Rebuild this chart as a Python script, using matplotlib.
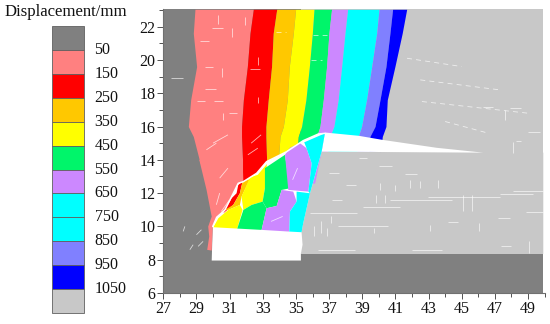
import matplotlib
matplotlib.use("Agg")
import matplotlib.pyplot as plt
from matplotlib.patches import Polygon, Rectangle
from matplotlib.ticker import FixedLocator

plt.rcParams['font.family'] = ['Liberation Serif', 'DejaVu Serif']

LEGEND_TITLE = "Displacement/mm"
legend_labels = [50, 150, 250, 350, 450, 550, 650, 750, 850, 950, 1050]
C_DARK = '#808080'; C_PINK = '#ff8080'; C_RED = '#ff0000'; C_ORANGE = '#ffc800'
C_YELLOW = '#ffff00'; C_GREEN = '#00f56a'; C_PURPLE = '#cc88ff'; C_CYAN = '#00ffff'
C_LBLUE = '#8080ff'; C_BLUE = '#0000ff'; C_LGRAY = '#c8c8c8'
legend_colors = [C_DARK, C_PINK, C_RED, C_ORANGE, C_YELLOW, C_GREEN, C_PURPLE,
                 C_CYAN, C_CYAN, C_LBLUE, C_BLUE, C_LGRAY]

x_major = [27, 29, 31, 33, 35, 37, 39, 41, 43, 45, 47, 49]
x_minor = [28, 30, 32, 34, 36, 38, 40, 42, 44, 46, 48, 50]
y_major = [6, 8, 10, 12, 14, 16, 18, 20, 22]
y_minor = [7, 9, 11, 13, 15, 17, 19, 21, 23]

x_end = 49.92
y_top = 23.04
seam_y = 8.35

# upper contour bands: x of each boundary at the rows band_y
band_y = [23.04, 21.6, 19.6, 17.6, 16.0, 15.4, 14.0, 12.6]
b_gray_pink = [28.91, 28.81, 29.01, 28.65, 28.51, 28.81, 29.17, 29.60]
b_pink_red = [32.43, 32.23, 32.07, 31.83, 31.72, 31.72, 31.78, 31.78]
b_red_orange = [33.84, 33.63, 33.53, 33.33, 33.19, 33.19, 33.23, 33.23]
b_orange_yellow = [34.98, 34.84, 34.60, 34.48, 34.24, 34.04, 33.94, 33.90]
b_yellow_green = [36.09, 35.99, 35.81, 35.60, 35.34, 35.14, 35.04, 35.00]
b_green_purple = [37.15, 36.99, 36.85, 36.65, 36.45, 36.25, 36.05, 36.00]
b_purple_cyan = [38.12, 37.96, 37.76, 37.55, 37.29, 37.05, 36.85, 36.80]
b_cyan_lblue = [40.01, 39.87, 39.57, 39.26, 38.96, 38.76, 38.66, 38.60]
b_lblue_blue = [40.83, 40.67, 40.43, 40.07, 39.77, 39.46, 39.36, 39.30]
b_blue_gray = [41.68, 41.41, 40.97, 40.51, 40.43, 40.21, 40.07, 40.00]

crack = [(36.75, 15.59), (36.35, 15.55), (35.44, 15.15), (34.44, 14.49), (33.23, 13.89),
         (32.63, 13.19), (31.83, 12.69), (31.52, 12.59), (30.72, 10.99), (30.22, 10.55), (29.98, 9.99)]
mask_rest = [(29.92, 7.95), (35.30, 7.95), (35.30, 8.35), (35.40, 8.90), (35.34, 9.65),
             (35.44, 10.19), (35.85, 11.99), (36.55, 14.49)]
wedge = [(36.75, 15.64), (38.80, 15.44), (40.20, 15.20), (43.5, 14.72), (46.30, 14.43), (36.55, 14.49)]
lower_gray = [(36.55, 14.49), (46.30, 14.43), (x_end, 14.43), (x_end, seam_y), (35.3, seam_y)]
pink_tail = [(29.17, 14.0), (29.61, 12.19), (29.92, 10.59), (29.71, 9.99), (29.77, 9.39),
             (29.65, 8.59), (29.92, 8.55), (29.98, 9.99), (30.22, 10.55), (30.72, 10.99),
             (31.52, 12.59), (31.83, 12.69), (31.78, 14.0)]

# slumped blocks under the crack
blocks = [
    (C_RED, [(30.62, 10.79), (31.12, 11.69), (31.42, 11.99), (31.52, 12.49), (31.78, 12.69), (31.62, 11.99), (31.22, 11.29)]),
    (C_ORANGE, [(30.72, 10.99), (31.22, 11.29), (31.62, 11.99), (31.78, 12.69), (32.23, 12.85), (31.72, 11.79), (31.62, 11.29), (30.92, 10.99)]),
    (C_YELLOW, [(30.02, 9.95), (30.32, 10.49), (30.92, 10.99), (31.62, 11.29), (31.78, 10.99), (31.46, 9.87)]),
    (C_YELLOW, [(31.72, 11.79), (32.23, 12.95), (32.70, 13.10), (33.25, 13.75), (33.13, 12.29), (32.99, 11.49), (32.33, 11.29), (31.83, 10.99)]),
    (C_GREEN, [(31.46, 9.87), (31.83, 10.99), (32.33, 11.29), (32.99, 11.49), (33.23, 11.09), (32.93, 9.79)]),
    (C_GREEN, [(33.13, 13.50), (34.34, 14.30), (34.64, 12.29), (34.14, 12.19), (33.84, 11.23), (33.23, 11.09), (32.99, 11.49), (33.13, 12.29)]),
    (C_PURPLE, [(34.34, 14.30), (34.64, 14.72), (35.24, 15.00), (35.64, 14.70), (35.95, 13.79), (35.75, 12.09), (34.54, 12.19)]),
    (C_PURPLE, [(34.14, 12.19), (34.84, 12.09), (35.04, 11.49), (34.64, 10.89), (34.60, 9.69), (32.93, 9.79), (33.23, 11.09), (33.84, 11.23)]),
    (C_CYAN, [(35.04, 12.09), (35.85, 11.99), (35.44, 10.19), (35.34, 9.65), (34.60, 9.69), (34.64, 10.89), (35.04, 11.49)]),
    (C_CYAN, [(35.50, 15.05), (36.75, 15.59), (36.55, 14.49), (35.85, 11.99), (35.75, 12.09), (35.95, 13.79), (35.64, 14.70)]),
]

# short solid fissures: (x0, x1, y0, y1)
fissures = [
    (27.44, 28.17, 18.94, 18.94), (29.92, 30.58, 21.94, 21.94), (29.21, 29.77, 21.16, 21.16),
    (29.51, 29.98, 19.56, 19.56), (29.51, 30.18, 18.24, 18.24), (29.01, 29.51, 17.56, 17.56),
    (30.08, 30.62, 17.56, 17.56), (30.98, 31.42, 16.84, 16.84), (30.32, 30.32, 22.70, 22.16),
    (31.16, 31.16, 21.90, 21.40), (30.52, 30.52, 19.50, 19.00), (30.58, 30.58, 16.80, 16.40),
    (31.93, 31.93, 22.60, 22.10), (32.73, 32.73, 20.20, 19.70), (32.23, 32.83, 19.44, 19.44),
    (32.70, 32.70, 17.80, 17.40), (30.00, 30.90, 15.00, 15.50),
    (29.60, 30.20, 14.60, 15.00), (32.30, 32.90, 15.00, 15.50), (32.10, 32.70, 14.30, 14.70),
    (30.40, 30.90, 12.90, 13.50), (30.20, 30.40, 11.30, 12.00), (30.50, 31.00, 10.90, 11.60),
    (34.80, 35.10, 12.80, 13.50), (33.50, 34.20, 10.30, 10.60),
    (46.30, 46.90, 17.20, 17.20), (47.90, 48.60, 17.10, 17.10),
    (47.60, 47.60, 17.00, 16.40), (49.00, 49.70, 15.70, 15.70), (48.10, 48.10, 15.09, 14.39),
    (48.30, 48.60, 15.10, 15.10), (40.67, 44.39, 11.59, 11.59), (42.98, 47.31, 11.75, 11.75),
    (37.56, 40.57, 10.03, 10.03), (35.85, 38.66, 10.79, 10.79), (47.31, 49.32, 11.95, 11.95),
    (41.98, 43.79, 8.59, 8.59), (36.35, 38.56, 8.59, 8.59), (48.90, 49.92, 10.89, 10.89),
    (48.10, 49.92, 12.15, 12.15), (39.07, 41.28, 11.15, 11.15), (38.80, 39.30, 14.10, 14.10),
    (40.00, 40.80, 13.60, 13.60), (41.60, 42.30, 13.15, 13.15), (47.20, 47.90, 10.50, 10.50),
    (44.20, 44.80, 10.25, 10.25), (47.40, 48.00, 8.83, 8.83), (38.00, 38.60, 12.50, 12.50),
    (37.00, 37.60, 13.20, 13.20), (37.20, 37.80, 11.60, 11.60),
    (40.10, 40.10, 12.60, 12.20), (41.00, 41.00, 12.50, 12.10), (41.90, 41.90, 12.80, 12.30),
    (42.50, 42.50, 12.70, 12.30), (43.60, 43.60, 12.80, 12.30), (39.80, 39.80, 11.90, 11.40),
    (40.40, 40.40, 11.90, 11.40), (45.10, 45.10, 11.90, 10.90), (45.60, 45.60, 11.90, 10.90),
    (37.10, 37.10, 10.60, 10.20), (36.50, 36.50, 10.30, 9.60), (36.10, 36.10, 10.00, 9.40),
    (36.90, 36.90, 9.90, 9.40), (39.70, 39.70, 9.90, 9.60), (43.10, 43.10, 10.10, 9.70),
    (46.05, 46.05, 10.20, 9.70), (49.05, 49.05, 9.10, 8.40), (29.00, 29.30, 9.50, 9.80),
    (28.60, 28.80, 8.60, 8.90), (29.10, 29.40, 8.80, 9.10), (28.20, 28.30, 9.70, 10.00),
]
# long dashed fissures in the upper right block
dashed_fissures = [
    (42.60, 49.00, 17.50, 16.80), (41.70, 45.00, 20.10, 19.60), (42.50, 47.30, 18.80, 18.20),
    (44.00, 46.60, 16.30, 15.60), (33.80, 34.40, 21.70, 21.70), (36.00, 36.90, 21.50, 21.50),
    (35.90, 36.60, 20.00, 20.00),
]


fig = plt.figure(figsize=(5.5, 3.24), dpi=100)
W, H = 550.0, 324.0

ax = fig.add_axes([163.3 / W, (H - 293) / H, 381.3 / W, (293 - 9.3) / H])
ax.set_xlim(27, 50)
ax.set_ylim(6, y_top)

ax.add_patch(Rectangle((27, 6), x_end - 27, y_top - 6, fc=C_DARK, ec='none', zorder=1))
ax.add_patch(Rectangle((35.3, seam_y), x_end - 35.3, y_top - seam_y, fc=C_LGRAY, ec='none', zorder=1.5))

bands = [(C_PINK, b_gray_pink, b_pink_red), (C_RED, b_pink_red, b_red_orange),
         (C_ORANGE, b_red_orange, b_orange_yellow), (C_YELLOW, b_orange_yellow, b_yellow_green),
         (C_GREEN, b_yellow_green, b_green_purple), (C_PURPLE, b_green_purple, b_purple_cyan),
         (C_CYAN, b_purple_cyan, b_cyan_lblue), (C_LBLUE, b_cyan_lblue, b_lblue_blue),
         (C_BLUE, b_lblue_blue, b_blue_gray)]
for col, left, right in bands:
    ax.fill_betweenx(band_y, left, right, color=col, lw=0, zorder=2)

ax.add_patch(Polygon(lower_gray, closed=True, fc=C_LGRAY, ec='none', zorder=2.5))
ax.add_patch(Polygon(crack + mask_rest, closed=True, fc='white', ec='none', zorder=3))
ax.add_patch(Polygon(wedge, closed=True, fc='white', ec='none', zorder=3))
ax.add_patch(Polygon(pink_tail, closed=True, fc=C_PINK, ec='none', zorder=3.2))
for col, pts in blocks:
    ax.add_patch(Polygon(pts, closed=True, fc=col, ec='none', zorder=3.5))

cx, cy = zip(*crack)
ax.plot(cx, cy, color='white', lw=1.1, zorder=4, solid_capstyle='round')

for x0, x1, y0, y1 in fissures:
    ax.plot([x0, x1], [y0, y1], color='white', lw=0.6, alpha=0.7, zorder=3.8, solid_capstyle='butt')
for x0, x1, y0, y1 in dashed_fissures:
    ax.plot([x0, x1], [y0, y1], color='white', lw=0.6, alpha=0.7, zorder=3.8, ls=(0, (6, 5)))

for s in ('top', 'right'):
    ax.spines[s].set_visible(False)
for s in ('left', 'bottom'):
    ax.spines[s].set_color('#707070')
    ax.spines[s].set_linewidth(0.8)
ax.xaxis.set_major_locator(FixedLocator(x_major))
ax.xaxis.set_minor_locator(FixedLocator(x_minor))
ax.yaxis.set_major_locator(FixedLocator(y_major))
ax.yaxis.set_minor_locator(FixedLocator(y_minor))
ax.tick_params(which='major', length=4.2, width=0.7, color='#505050', labelsize=11.5, pad=1.5, labelcolor='#111111')
ax.tick_params(which='minor', length=3, width=0.7, color='#505050')

# legend column
lax = fig.add_axes([0, 0, 1, 1])
lax.set_xlim(0, W)
lax.set_ylim(H, 0)
lax.axis('off')
lax.patch.set_alpha(0)
n = len(legend_colors)
y0, y1 = 26.0, 313.0
step = (y1 - y0) / n
for i, col in enumerate(legend_colors):
    lax.add_patch(Rectangle((51.5, y0 + i * step), 32, step, fc=col, ec='#606060', lw=0.6))
for i, lab in enumerate(legend_labels):
    lax.text(94.5, 50 + i * 23.9, str(lab), ha='left', va='center', fontsize=11.5, color='#111111')
lax.text(5, 12, LEGEND_TITLE, ha='left', va='center', fontsize=12.1, color='#111111')

fig.savefig('out.png', dpi=100)
